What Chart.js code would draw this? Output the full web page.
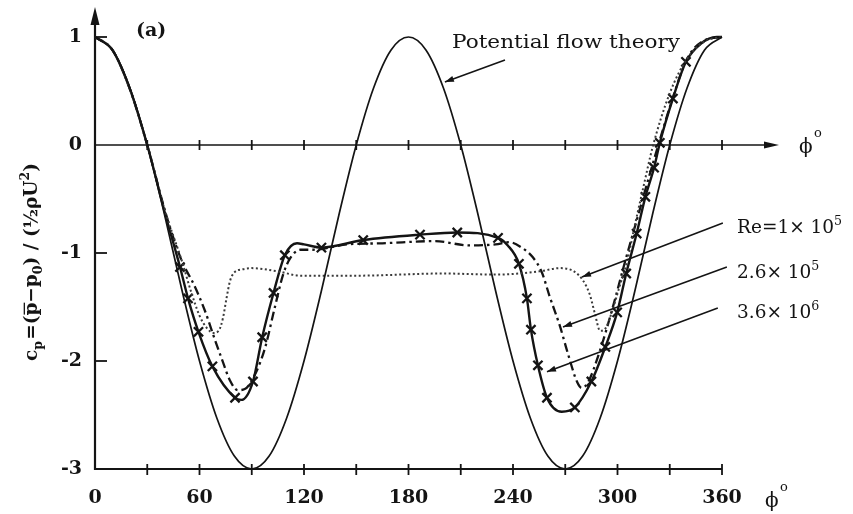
<!DOCTYPE html>
<html><head><meta charset="utf-8">
<script src="https://cdn.jsdelivr.net/npm/chart.js@4/dist/chart.umd.min.js"></script>
<style>html,body{margin:0;padding:0;background:#fff;}#wrap{width:853px;height:514px;}</style>
</head><body><div id="wrap"><canvas id="c" width="853" height="514"></canvas></div>
<script>
// ---- data ----
const xTicks = [0,30,60,90,120,150,180,210,240,270,300,330,360];
const xLabels = ['0','','60','','120','','180','','240','','300','','360'];
const yTicks = [1,0,-1,-2,-3];
const yLabels = ['1','0','-1','-2','-3'];

// potential flow theory
const potPhi = [0,10,20,30,40,50,60,70,80,90,100,110,120,130,140,150,160,170,180,190,200,210,220,230,240,250,260,270,280,290,300,310,320,330,340,350,360];
const potCp  = [1,0.88,0.53,0,-0.65,-1.35,-2,-2.53,-2.88,-3,-2.88,-2.53,-2,-1.35,-0.65,0,0.53,0.88,1,0.88,0.53,0,-0.65,-1.35,-2,-2.53,-2.88,-3,-2.88,-2.53,-2,-1.35,-0.65,0,0.53,0.88,1];

// Re = 1e5 (dotted)
const re1Phi = [0,10,20,30,40,50,55,60,64,68,71,73.5,75.5,77.5,80,85,90,105,118,150,200,230,255,267,275,280,284,287,290,293,296.5,301,305.5,310,315,320,330,340,350,360];
const re1Cp  = [1,0.88,0.52,0,-0.6,-1.08,-1.35,-1.58,-1.69,-1.74,-1.72,-1.6,-1.42,-1.26,-1.18,-1.15,-1.14,-1.17,-1.21,-1.21,-1.19,-1.2,-1.17,-1.14,-1.17,-1.25,-1.38,-1.56,-1.72,-1.7,-1.56,-1.32,-1.08,-0.74,-0.38,-0.03,0.48,0.8,0.96,1];

// Re = 2.6e5 (dash-dot)
const re26Phi = [0,10,20,30,40,45,50,57,63,69,73,77.5,82,86,92,97.6,103,108,112,118,125,145,165,195,215,230,238,245,251.4,256.6,261,267,271.5,276.7,279.5,283,290,297,304,311,318,324,332,340,350,360];
const re26Cp  = [1,0.88,0.52,0,-0.6,-0.86,-1.08,-1.3,-1.53,-1.81,-1.99,-2.18,-2.27,-2.26,-2.12,-1.88,-1.52,-1.2,-1.05,-0.97,-0.97,-0.92,-0.91,-0.89,-0.93,-0.92,-0.9,-0.95,-1.04,-1.18,-1.4,-1.68,-1.93,-2.19,-2.25,-2.2,-1.9,-1.52,-1.1,-0.7,-0.3,0.03,0.45,0.8,0.97,1];

// Re = 3.6e6 (solid with crosses): measured crosses + extra curve points
const re36MarkPhi = [48.8,53.4,59.4,67.4,80.4,90.7,96,102.5,109,130,154,186.6,208,231.4,243.4,248,250.3,254.3,259.5,275.5,285,293,299.8,305,311,316,321,324.3,331.8,339.3];
const re36MarkCp  = [-1.13,-1.42,-1.73,-2.05,-2.34,-2.19,-1.78,-1.37,-1.02,-0.95,-0.88,-0.83,-0.81,-0.86,-1.1,-1.42,-1.71,-2.04,-2.34,-2.43,-2.19,-1.87,-1.55,-1.19,-0.82,-0.48,-0.21,0.02,0.43,0.77];
const re36CurvePhi = [0,10,20,30,40,84,116,120,237,268,348,357,360];
const re36CurveCp  = [1,0.88,0.52,0,-0.62,-2.36,-0.91,-0.92,-0.93,-2.47,0.94,1,1];

// ---- helpers ----
const pts = (xs, ys) => xs.map((x, i) => ({x, y: ys[i]}));
const re36Line = pts(re36MarkPhi, re36MarkCp).concat(pts(re36CurvePhi, re36CurveCp)).sort((a, b) => a.x - b.x);
const INK = '#141414';
const SERIF = '"DejaVu Serif", "Liberation Serif", serif';

function drawRich(ctx, x, y, parts, size, weight) {
  let cx = x;
  for (const p of parts) {
    const s = (p.sub || p.sup) ? size * 0.68 : size;
    ctx.font = `${weight} ${s}px ${SERIF}`;
    const dy = p.sub ? size * 0.28 : p.sup ? -size * 0.45 : 0;
    ctx.fillText(p.t, cx, y + dy);
    const w = ctx.measureText(p.t).width;
    if (p.bar) {
      ctx.fillRect(cx + 1, y - size * 0.72, w - 1, Math.max(1.2, size * 0.07));
    }
    cx += w + (p.gap || 0);
  }
  return cx - x;
}
function richWidth(ctx, parts, size, weight) {
  let w = 0;
  for (const p of parts) {
    const s = (p.sub || p.sup) ? size * 0.68 : size;
    ctx.font = `${weight} ${s}px ${SERIF}`;
    w += ctx.measureText(p.t).width + (p.gap || 0);
  }
  return w;
}
function fitText(ctx, text, x, y, font, width) {
  ctx.font = font;
  const w = ctx.measureText(text).width;
  ctx.save();
  ctx.translate(x, y);
  ctx.scale(width / w, 1);
  ctx.fillText(text, 0, 0);
  ctx.restore();
}
function arrow(ctx, x1, y1, x2, y2, len, hw) {
  ctx.beginPath(); ctx.moveTo(x1, y1); ctx.lineTo(x2, y2); ctx.stroke();
  const a = Math.atan2(y2 - y1, x2 - x1);
  ctx.beginPath();
  ctx.moveTo(x2, y2);
  ctx.lineTo(x2 - len * Math.cos(a) + hw * Math.sin(a), y2 - len * Math.sin(a) - hw * Math.cos(a));
  ctx.lineTo(x2 - len * Math.cos(a) - hw * Math.sin(a), y2 - len * Math.sin(a) + hw * Math.cos(a));
  ctx.closePath(); ctx.fill();
}

const axesPlugin = {
  id: 'axesPlugin',
  beforeDatasetsDraw(chart) {
    const {ctx, scales: {x, y}} = chart;
    const x0 = x.getPixelForValue(0), x360 = x.getPixelForValue(360);
    const yTop = y.getPixelForValue(1), y0 = y.getPixelForValue(0), yBot = y.getPixelForValue(-3);
    ctx.save();
    ctx.strokeStyle = INK; ctx.fillStyle = INK;
    // y axis with arrow
    ctx.lineWidth = 2.2;
    ctx.beginPath(); ctx.moveTo(x0, yBot + 1); ctx.lineTo(x0, yTop - 16); ctx.stroke();
    ctx.beginPath(); ctx.moveTo(x0, yTop - 30); ctx.lineTo(x0 - 4.5, yTop - 12); ctx.lineTo(x0 + 4.5, yTop - 12); ctx.closePath(); ctx.fill();
    // bottom axis
    ctx.lineWidth = 2;
    ctx.beginPath(); ctx.moveTo(x0, yBot); ctx.lineTo(x360, yBot); ctx.stroke();
    // zero line with arrow
    ctx.lineWidth = 1.6;
    ctx.beginPath(); ctx.moveTo(x0, y0); ctx.lineTo(x360 + 46, y0); ctx.stroke();
    ctx.beginPath(); ctx.moveTo(x360 + 57, y0); ctx.lineTo(x360 + 42, y0 - 3.5); ctx.lineTo(x360 + 42, y0 + 3.5); ctx.closePath(); ctx.fill();
    // x ticks on both horizontal lines
    ctx.lineWidth = 1.8;
    for (const v of xTicks) {
      if (v === 0) continue;
      const px = x.getPixelForValue(v);
      ctx.beginPath(); ctx.moveTo(px, yBot - 5); ctx.lineTo(px, yBot + 6); ctx.stroke();
      ctx.beginPath(); ctx.moveTo(px, y0 - 5); ctx.lineTo(px, y0 + 5); ctx.stroke();
    }
    // y ticks
    for (const v of yTicks) {
      if (v === 0 || v === -3) continue;
      const py = y.getPixelForValue(v);
      ctx.beginPath(); ctx.moveTo(x0, py); ctx.lineTo(x0 + 12, py); ctx.stroke();
    }
    ctx.restore();
  },
  afterDatasetsDraw(chart) {
    const {ctx, scales: {x, y}} = chart;
    const P = (a, b) => [x.getPixelForValue(a), y.getPixelForValue(b)];
    ctx.save();
    ctx.fillStyle = INK; ctx.strokeStyle = INK; ctx.textBaseline = 'alphabetic';
    // phi labels
    ctx.font = `20px ${SERIF}`;
    ctx.fillText('ϕ', 765, 507); ctx.fillText('ϕ', 799, 153);
    ctx.font = `13px ${SERIF}`;
    ctx.fillText('o', 780, 491); ctx.fillText('o', 814, 137);
    // (a)
    ctx.font = `bold 19px ${SERIF}`;
    ctx.fillText('(a)', 136, 36);
    // potential flow label + arrow
    fitText(ctx, 'Potential flow theory', 452, 48, `19px ${SERIF}`, 228);
    ctx.lineWidth = 1.6;
    let a = P(235.4, 0.787), b = P(200.9, 0.583);
    arrow(ctx, a[0], a[1], b[0], b[1], 9, 3);
    // Re labels
    const rlab = [
      {parts: [{t: 'Re=1× 10'}, {t: '5', sup: true}], yb: 233, from: [360.5, -0.722], to: [279.6, -1.222]},
      {parts: [{t: '2.6× 10'}, {t: '5', sup: true}], yb: 278, from: [362.8, -1.13], to: [268.7, -1.685]},
      {parts: [{t: '3.6× 10'}, {t: '6', sup: true}], yb: 318, from: [357.6, -1.509], to: [259.5, -2.10]}
    ];
    for (const r of rlab) {
      drawRich(ctx, 737, r.yb, r.parts, 18.5, 'normal');
      a = P(r.from[0], r.from[1]); b = P(r.to[0], r.to[1]);
      arrow(ctx, a[0], a[1], b[0], b[1], 9, 3);
    }
    // y title (rotated)
    const parts = [
      {t: 'c'}, {t: 'p', sub: true, gap: 1}, {t: '=('}, {t: 'p', bar: true}, {t: '−'}, {t: 'p'}, {t: '0', sub: true},
      {t: ') / ('}, {t: '½'}, {t: 'ρU'}, {t: '2', sup: true}, {t: ')'}
    ];
    const size = 18.5, wt = 'bold';
    const W = richWidth(ctx, parts, size, wt);
    ctx.translate(37, 262);
    ctx.rotate(-Math.PI / 2);
    drawRich(ctx, -W / 2, 0, parts, size, wt);
    ctx.restore();
  }
};

new Chart(document.getElementById('c'), {
  type: 'scatter',
  data: {
    datasets: [
      {label: 'Potential flow theory', data: pts(potPhi, potCp), showLine: true, borderColor: INK, borderWidth: 1.7, pointRadius: 0, cubicInterpolationMode: 'monotone', clip: false},
      {label: 'Re=1×10^5', data: pts(re1Phi, re1Cp), showLine: true, borderColor: '#3a3a3a', borderWidth: 2, borderDash: [2, 2.5], pointRadius: 0, cubicInterpolationMode: 'monotone', clip: false},
      {label: 'Re=2.6×10^5', data: pts(re26Phi, re26Cp), showLine: true, borderColor: INK, borderWidth: 2.3, borderDash: [9, 4, 2.5, 4], pointRadius: 0, cubicInterpolationMode: 'monotone', clip: false},
      {label: 'Re=3.6×10^6', data: re36Line, showLine: true, borderColor: INK, borderWidth: 2.4, pointRadius: 0, cubicInterpolationMode: 'monotone', clip: false},
      {label: 'Re=3.6×10^6 data', data: pts(re36MarkPhi, re36MarkCp), showLine: false, pointStyle: 'crossRot', pointRadius: 6.5, pointBorderWidth: 2.3, borderColor: INK, backgroundColor: INK, clip: false}
    ]
  },
  options: {
    responsive: false, animation: false, devicePixelRatio: 1,
    layout: {padding: {top: 37, right: 131, left: 0, bottom: 0}},
    plugins: {legend: {display: false}, tooltip: {enabled: false}},
    scales: {
      x: {
        type: 'linear', min: 0, max: 360,
        afterBuildTicks: s => { s.ticks = xTicks.map(v => ({value: v})); },
        afterFit: s => { s.height = 45; },
        grid: {display: false, drawTicks: false}, border: {display: false},
        ticks: {autoSkip: false, maxRotation: 0, padding: 18, color: INK, font: {family: SERIF, size: 19, weight: 'bold'},
                callback: v => xLabels[xTicks.indexOf(v)] ?? ''}
      },
      y: {
        type: 'linear', min: -3, max: 1,
        afterBuildTicks: s => { s.ticks = yTicks.map(v => ({value: v})); },
        afterFit: s => { s.width = 95; },
        grid: {display: false, drawTicks: false}, border: {display: false},
        ticks: {autoSkip: false, padding: 13, color: INK, font: {family: SERIF, size: 19, weight: 'bold'},
                callback: v => yLabels[yTicks.indexOf(v)] ?? ''}
      }
    }
  },
  plugins: [axesPlugin]
});
</script></body></html>
